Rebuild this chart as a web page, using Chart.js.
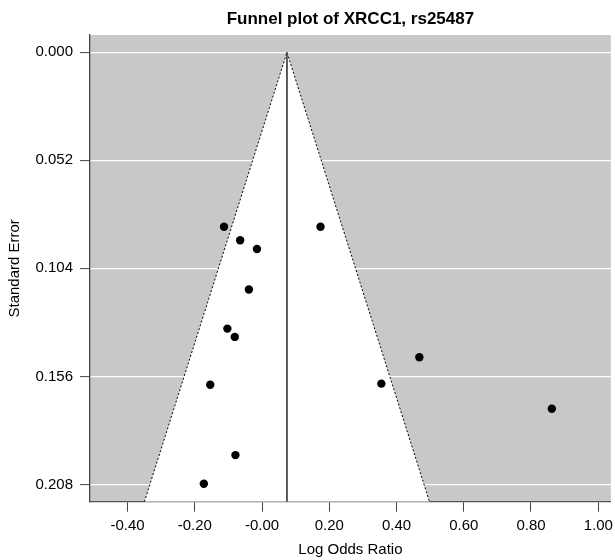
<!DOCTYPE html>
<html>
<head>
<meta charset="utf-8">
<script src="https://cdn.jsdelivr.net/npm/chart.js@4.4.1/dist/chart.umd.min.js"></script>
<style>
  html, body { margin: 0; padding: 0; background: #ffffff; overflow: hidden; }
  #wrap { position: relative; width: 615px; height: 560px; }
</style>
</head>
<body>
<div id="wrap"><canvas id="c" width="615" height="560"></canvas></div>
<script>
// ---- data ----
const titleText = "Funnel plot of XRCC1, rs25487";
const xTitle = "Log Odds Ratio";
const yTitle = "Standard Error";
const logOddsRatio = [-0.113, -0.065, -0.015, -0.039, 0.174, -0.103, -0.081, -0.154, -0.079, -0.173, 0.468, 0.355, 0.862];
const standardError = [0.084, 0.0905, 0.0947, 0.1142, 0.084, 0.133, 0.137, 0.160, 0.1939, 0.2077, 0.1468, 0.1595, 0.1716];
const pooledEstimate = 0.0742;
const xTickValues = [-0.4, -0.2, 0.0, 0.2, 0.4, 0.6, 0.8, 1.0];
const xTickLabels = ["-0.40", "-0.20", "-0.00", "0.20", "0.40", "0.60", "0.80", "1.00"];
const yTickValues = [0.000, 0.052, 0.104, 0.156, 0.208];
const yTickLabels = ["0.000", "0.052", "0.104", "0.156", "0.208"];
const xRange = [-0.5116, 1.0374];
const yRange = [-0.00832, 0.21632];

const points = logOddsRatio.map((v, i) => ({ x: v, y: standardError[i] }));
const seMax = yRange[1];
const funnel = [
  { x: pooledEstimate - 1.96 * seMax, y: seMax },
  { x: pooledEstimate, y: 0 },
  { x: pooledEstimate + 1.96 * seMax, y: seMax }
];
const pooledLine = [{ x: pooledEstimate, y: 0 }, { x: pooledEstimate, y: seMax }];

const FONT = "'Liberation Sans', Arial, sans-serif";

const plotBg = {
  id: 'plotBg',
  beforeDraw(chart) {
    const { ctx, chartArea: a } = chart;
    ctx.save();
    ctx.fillStyle = '#c8c8c8';
    ctx.fillRect(a.left, a.top, a.right - a.left, a.bottom - a.top);
    ctx.restore();
  }
};

new Chart(document.getElementById('c'), {
  type: 'scatter',
  data: {
    datasets: [
      {
        label: 'studies',
        data: points,
        backgroundColor: '#000000',
        borderColor: '#000000',
        pointRadius: 4.2,
        pointHoverRadius: 4.2,
        borderWidth: 0
      },
      {
        type: 'line',
        label: 'pooled',
        data: pooledLine,
        borderColor: '#444444',
        borderWidth: 1,
        pointRadius: 0,
        fill: false
      },
      {
        type: 'line',
        label: 'funnel',
        data: funnel,
        borderColor: '#000000',
        borderWidth: 1,
        borderDash: [2, 2],
        backgroundColor: '#ffffff',
        pointRadius: 0,
        tension: 0,
        fill: 'shape'
      }
    ]
  },
  options: {
    responsive: false,
    animation: false,
    events: [],
    layout: { padding: { left: 0, right: 0, top: 0, bottom: 0 } },
    plugins: {
      legend: { display: false },
      tooltip: { enabled: false },
      title: {
        display: true,
        text: titleText,
        fullSize: false,
        color: '#000000',
        font: { family: FONT, size: 17, weight: 'bold', lineHeight: 1.2 },
        padding: { top: 9, bottom: 5.6 }
      }
    },
    scales: {
      x: {
        type: 'linear',
        min: xRange[0],
        max: xRange[1],
        afterBuildTicks(scale) { scale.ticks = xTickValues.map(v => ({ value: v })); },
        afterFit(scale) {
          scale.height = 58.3;
          scale.paddingLeft = 0;
          scale.paddingRight = 3.3;
        },
        ticks: {
          autoSkip: false,
          maxRotation: 0,
          color: '#000000',
          padding: 5,
          font: { family: FONT, size: 15 },
          callback: (v, i) => xTickLabels[i]
        },
        grid: {
          drawOnChartArea: false,
          drawTicks: true,
          tickLength: 10,
          tickColor: '#444444',
          tickWidth: 1
        },
        border: { display: true, color: '#555555', width: 1.3 },
        title: {
          display: true,
          text: xTitle,
          color: '#000000',
          font: { family: FONT, size: 15, lineHeight: 1.2 },
          padding: { top: 0, bottom: 1 }
        }
      },
      y: {
        type: 'linear',
        reverse: true,
        min: yRange[0],
        max: yRange[1],
        afterBuildTicks(scale) { scale.ticks = yTickValues.map(v => ({ value: v })); },
        afterFit(scale) { scale.width = 90; },
        ticks: {
          autoSkip: false,
          color: '#000000',
          padding: 7,
          font: { family: FONT, size: 15 },
          callback: (v, i) => yTickLabels[i]
        },
        grid: {
          drawOnChartArea: true,
          color: '#ffffff',
          lineWidth: 1.2,
          drawTicks: true,
          tickLength: 10,
          tickColor: '#444444',
          tickWidth: 1
        },
        border: { display: true, color: '#444444', width: 1.3 },
        title: {
          display: true,
          text: yTitle,
          color: '#000000',
          font: { family: FONT, size: 15, lineHeight: 1.2 },
          padding: { top: 6, bottom: 0 }
        }
      }
    }
  },
  plugins: [plotBg]
});
</script>
</body>
</html>
